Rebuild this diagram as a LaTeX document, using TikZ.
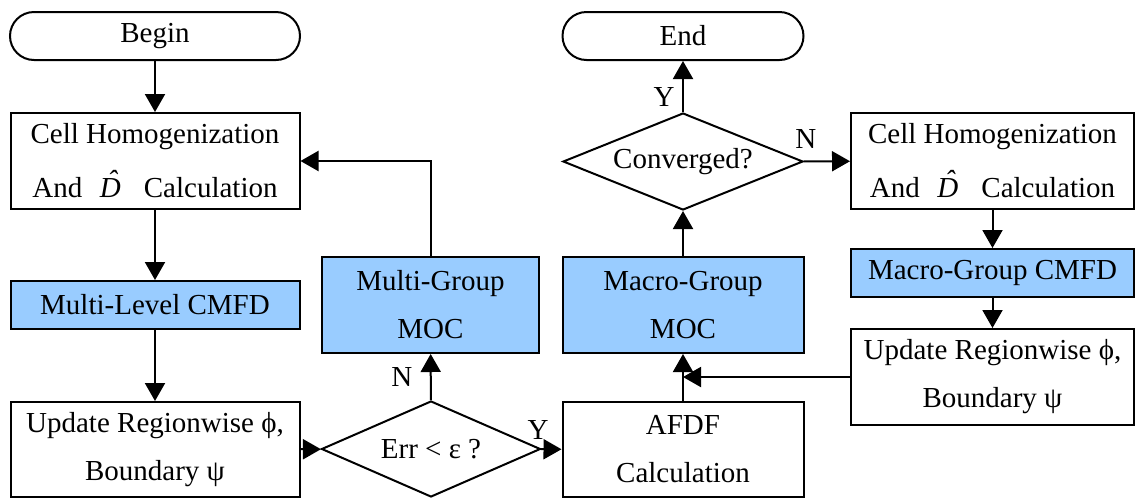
\documentclass[tikz,border=0pt]{standalone}
\usepackage{fontspec}
\setmainfont{Liberation Serif}
\usepackage{tikz}
\usetikzlibrary{arrows.meta,shapes.geometric}
\definecolor{mocblue}{HTML}{99CCFF}
\newcommand{\Dhat}{{\itshape\ooalign{D\cr\hidewidth\kern0.14em\raisebox{0.24em}{\char"02C6}\hidewidth\cr}}}
\tikzset{procbox/.style={shape=rectangle,draw,line width=2pt,align=center,inner sep=0pt},
	bluebox/.style={procbox,fill=mocblue},
	decision/.style={shape=diamond,draw,line width=2pt,aspect=2.3,inner sep=0pt},
	terminal/.style={shape=rectangle,draw,line width=2pt,rounded corners=24pt,minimum height=48pt},
	flow/.style={line width=2pt,-{Triangle[width=20pt,length=18pt]}}}

\begin{document}
\begin{tikzpicture}[x=1pt,y=-1pt,font=\fontsize{29pt}{48pt}\selectfont]
	\useasboundingbox (0,0) rectangle (1136,499);
	\node[terminal,minimum width=290pt] (begin) at (155,36) {Begin};
	\node[procbox,minimum width=289pt,minimum height=96pt] (cellL) at (155,161) {Cell Homogenization\\[6pt]And\hspace{0.6em}\Dhat\hspace{0.8em}Calculation};
	\node[bluebox,minimum width=289pt,minimum height=48pt] (mlcmfd) at (155,305) {Multi-Level CMFD};
	\node[procbox,minimum width=289pt,minimum height=95pt] (updL) at (155,449.5) {Update Regionwise ϕ,\\Boundary ψ};
	\node[decision,minimum width=219pt,minimum height=96pt] (err) at (431,449) {Err < ε ?};
	\node[bluebox,minimum width=217pt,minimum height=96pt] (mgmoc) at (430.5,305) {Multi-Group\\MOC};
	\node[procbox,minimum width=241pt,minimum height=95pt] (afdf) at (683,449.5) {AFDF\\Calculation};
	\node[bluebox,minimum width=241pt,minimum height=96pt] (mamoc) at (683,305) {Macro-Group\\MOC};
	\node[decision,minimum width=240pt,minimum height=97pt] (conv) at (683,161.5) {Converged?};
	\node[terminal,minimum width=241pt] (end) at (683,36) {End};
	\node[procbox,minimum width=283pt,minimum height=96pt] (cellR) at (992.5,161) {Cell Homogenization\\[6pt]And\hspace{0.6em}\Dhat\hspace{0.8em}Calculation};
	\node[bluebox,minimum width=283pt,minimum height=48pt] (macmfd) at (992.5,273) {Macro-Group CMFD};
	\node[procbox,minimum width=283pt,minimum height=96pt] (updR) at (992.5,377) {Update Regionwise ϕ,\\Boundary ψ};
	%
	\path[flow]
	(begin) edge (cellL)
	(cellL) edge (mlcmfd)
	(mlcmfd) edge (updL)
	(updL) edge (err)
	(err) edge node[pos=0,above=5pt,xshift=-3pt]{Y} (afdf)
	(err) edge node[left=14pt]{N} (mgmoc)
	(afdf) edge (mamoc)
	(mamoc) edge (conv)
	(conv) edge node[pos=0.3,left=4pt]{Y} (end)
	(conv) edge node[pos=0.05,above=8pt]{N} (cellR)
	(cellR) edge (macmfd)
	(macmfd) edge (updR)
	(updR.west) edge (updR.west -| afdf.north);
	\draw[flow] (mgmoc.north) |- (cellL.east);
\end{tikzpicture}
\end{document}
